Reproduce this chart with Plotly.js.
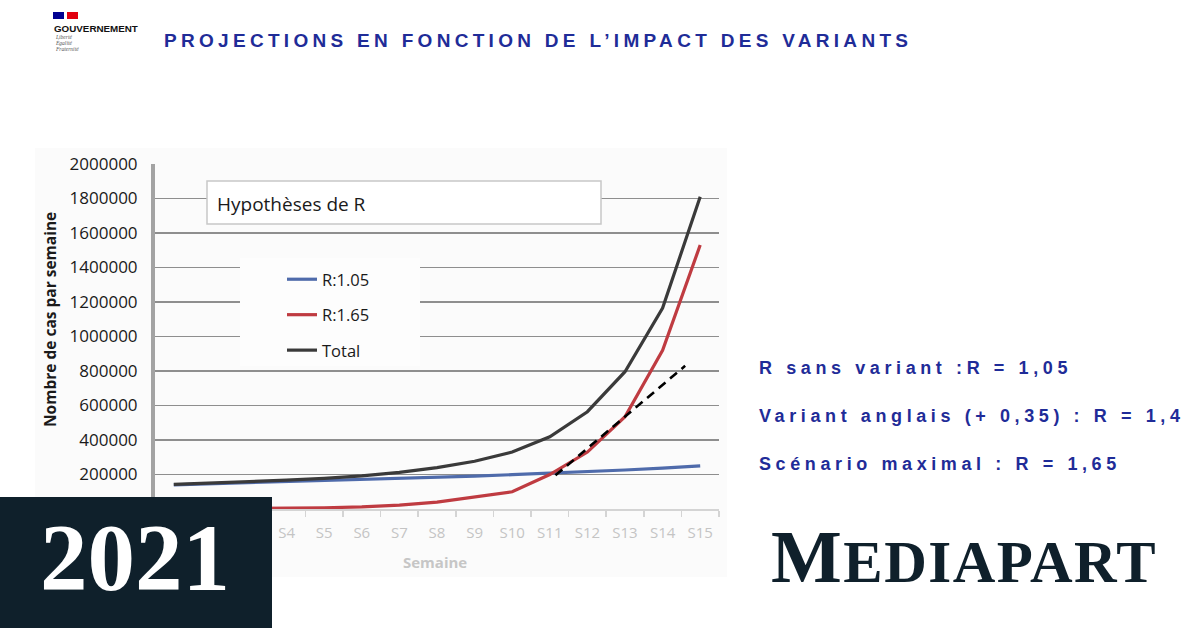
<!DOCTYPE html>
<html><head><meta charset="utf-8">
<script src="https://cdn.plot.ly/plotly-3.0.1.min.js"></script>
<style>
html,body{margin:0;padding:0;background:#fff;}
#chart{width:1200px;height:628px;}
text[data-unformatted^="PROJECTIONS"]{letter-spacing:4.3px;}
text[data-unformatted^="R sans"],text[data-unformatted^="Variant"],text[data-unformatted^="Scénario"]{letter-spacing:4.6px;}
text[data-unformatted*="EDIAPART"]{letter-spacing:1.5px;}
</style>
</head><body><div id="chart"></div>
<script>
// ---- data ----
const weeks = ['S1','S2','S3','S4','S5','S6','S7','S8','S9','S10','S11','S12','S13','S14','S15'];
const weekIndex = [1,2,3,4,5,6,7,8,9,10,11,12,13,14,15];
const r105 = [140000,146000,152000,158000,164000,170000,177000,184000,191000,199000,207000,216000,226000,237000,250000];
const r165 = [1000,2000,3000,5000,7000,12000,22000,40000,68000,100000,200000,330000,535000,920000,1530000];
const total = [143000,150000,157000,167000,178000,192000,212000,240000,277000,330000,419000,564000,796000,1165000,1810000];
const dashX = [11.15, 14.6];
const dashY = [195000, 830000];
const yTicks = [0,200000,400000,600000,800000,1000000,1200000,1400000,1600000,1800000,2000000];
const seriesNames = ['R:1.05','R:1.65','Total'];
const sideLines = ['R sans variant :R = 1,05','Variant anglais (+ 0,35) : R = 1,4','Scénario maximal : R = 1,65'];
const hiddenWeeks = 3; // S1–S3 labels sit under the "2021" block in the picture

// ---- layout helpers (pixel -> paper) ----
const L=155, R=719, T=164, B=509;
const px = x => (x-L)/(R-L);
const py = y => (B-y)/(B-T);
const BLUE_TXT = '#1f2c98';

const traces = [
  {x: weekIndex, y: r105, name: seriesNames[0], mode:'lines', line:{color:'#4f6bab', width:3.2}, legendgroup:'a'},
  {x: weekIndex, y: r165, name: seriesNames[1], mode:'lines', line:{color:'#bf3b41', width:3.2}, legendgroup:'b'},
  {x: weekIndex, y: total, name: seriesNames[2], mode:'lines', line:{color:'#3a3a3a', width:3.2}, legendgroup:'c'},
  {x: dashX, y: dashY, mode:'lines', showlegend:false, line:{color:'#000', width:2.6, dash:'9px,6px'}}
];

const ann = [];
ann.push({text:'PROJECTIONS EN FONCTION DE L’IMPACT DES VARIANTS', x:px(162), y:py(40), xanchor:'left', yanchor:'middle',
  font:{family:'Liberation Sans, Arial', size:19, weight:700, color:BLUE_TXT}});
sideLines.forEach((t,i)=>ann.push({text:t, x:px(757), y:py(368+48*i), xanchor:'left', yanchor:'middle',
  font:{family:'Liberation Sans, Arial', size:18, weight:700, color:BLUE_TXT}}));
ann.push({text:'GOUVERNEMENT', x:px(52), y:py(28), xanchor:'left', yanchor:'middle',
  font:{family:'Liberation Sans, Arial', size:9.8, weight:700, color:'#111'}});
['Liberté','Égalité','Fraternité'].forEach((t,i)=>ann.push({text:t, x:px(53), y:py(37+6*i), xanchor:'left', yanchor:'middle',
  font:{family:'Liberation Serif', size:5.5, style:'italic', color:'#555'}}));
ann.push({text:'Hypothèses de R', x:px(215), y:py(204), xanchor:'left', yanchor:'middle',
  font:{family:'Open Sans', size:19, color:'#1a1a1a'}});
ann.push({text:'Nombre de cas par semaine', x:px(50), y:py(320), textangle:-90, xanchor:'center', yanchor:'middle',
  font:{family:'Open Sans', size:15.5, weight:700, color:'#1a1a1a'}});
ann.push({text:'Semaine', x:px(435), y:py(562), xanchor:'center', yanchor:'middle',
  font:{family:'Open Sans', size:15, weight:700, color:'#c6c6c6'}});
ann.push({text:'2021', x:px(135), y:py(558), xanchor:'center', yanchor:'middle',
  font:{family:'Liberation Serif', size:95, weight:700, color:'#ffffff'}});
ann.push({text:'M<span style="font-size:59px">EDIAPART</span>', x:px(964), y:py(556), xanchor:'center', yanchor:'middle',
  font:{family:'Liberation Serif', size:75, weight:700, color:'#0f202b'}});
ann.forEach(a=>{a.xref='paper'; a.yref='paper'; a.showarrow=false;});

const shapes = [
  {type:'rect', xref:'paper', yref:'paper', x0:px(35), x1:px(727), y0:py(577), y1:py(148), fillcolor:'#fbfbfb', line:{width:0}, layer:'below'},
  {type:'rect', xref:'paper', yref:'paper', x0:px(240), x1:px(420), y0:py(366), y1:py(258), fillcolor:'#fdfdfd', line:{width:0}, layer:'above'},
  {type:'rect', xref:'paper', yref:'paper', x0:px(207), x1:px(601), y0:py(224), y1:py(181), fillcolor:'#ffffff', line:{width:1.5, color:'#c8c8c8'}, layer:'above'},
  {type:'rect', xref:'paper', yref:'paper', x0:px(53), x1:px(64), y0:py(19), y1:py(12), fillcolor:'#000091', line:{width:0}, layer:'above'},
  {type:'rect', xref:'paper', yref:'paper', x0:px(67), x1:px(78), y0:py(19), y1:py(12), fillcolor:'#e1000f', line:{width:0}, layer:'above'},
  {type:'rect', xref:'paper', yref:'paper', x0:px(0), x1:px(272), y0:py(628), y1:py(497), fillcolor:'#0f202b', line:{width:0}, layer:'above'}
];

const layout = {
  width:1200, height:628,
  margin:{l:L, r:1200-R, t:T, b:628-B},
  paper_bgcolor:'#ffffff', plot_bgcolor:'rgba(0,0,0,0)',
  showlegend:true,
  legend:{x:px(282), y:py(262), xanchor:'left', yanchor:'top', bgcolor:'rgba(0,0,0,0)',
    font:{family:'Open Sans', size:16.5, color:'#1a1a1a'}, traceorder:'grouped', tracegroupgap:11, itemwidth:30},
  xaxis:{range:[0.5,15.5], tickvals:weekIndex.slice(hiddenWeeks), ticktext:weeks.slice(hiddenWeeks), showgrid:false, zeroline:false,
    showline:true, linecolor:'#d4d4d4', linewidth:1.5, ticks:'outside', ticklen:9, tickcolor:'rgba(0,0,0,0)',
    tickfont:{family:'Open Sans', size:15, color:'#c4c4c4'},
    minor:{tick0:0.5, dtick:1, ticks:'outside', ticklen:6, tickcolor:'#d4d4d4', tickwidth:1.5, showgrid:false}},
  yaxis:{range:[0,2000000], tickvals:yTicks.slice(1), ticktext:yTicks.slice(1).map(String), showgrid:true, gridcolor:'#8e8e8e', gridwidth:1.5,
    zeroline:false, showline:true, linecolor:'#a3a3a3', linewidth:4, ticks:'outside', ticklen:10, tickcolor:'rgba(0,0,0,0)',
    tickfont:{family:'Open Sans', size:17, color:'#1a1a1a'}},
  annotations:ann, shapes:shapes
};

Plotly.newPlot('chart', traces, layout, {displayModeBar:false, staticPlot:true});
</script>
</body></html>
